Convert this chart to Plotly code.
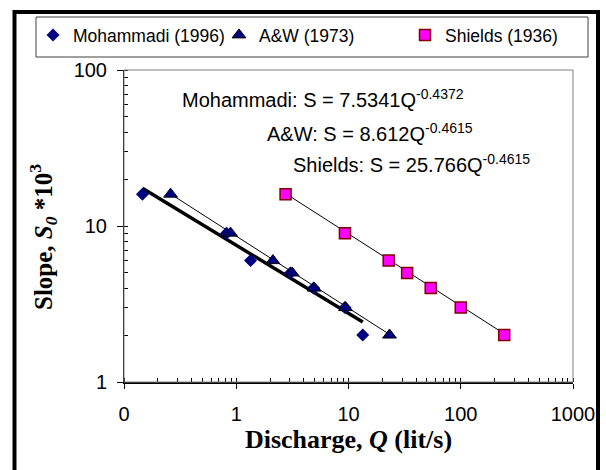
import numpy as np
import plotly.graph_objects as go

# Measured data: slope S0*10^3 against discharge Q (lit/s)
slope = [16, 9, 6, 5, 4, 3, 2]
q_mohammadi = [0.146, 0.82, 1.34, 3.03, 4.89, 9.3, 13.4]
q_aw = [0.26, 0.89, 2.12, 3.15, 4.95, 9.4, 23.2]
q_shields = [2.75, 9.3, 22.8, 33.3, 54, 100, 244]

# Power-law fits S = a * Q^b
fit_mohammadi = (7.5341, -0.4372)
fit_aw = (8.612, -0.4615)
fit_shields = (25.766, -0.4615)

x_tickvals = [0.1, 1, 10, 100, 1000]
x_ticktext = ["0", "1", "10", "100", "1000"]
y_tickvals = [1, 10, 100]
y_ticktext = ["1", "10", "100"]

W, H = 606, 470
L, R, T, B = 124, 33, 70, 88
PW, PH = W - L - R, H - T - B


def px(x):
    return (x - L) / PW


def py(y):
    return (H - B - y) / PH


def fit_curve(q, fit):
    a, b = fit
    qq = np.geomspace(min(q), max(q), 60)
    return qq, a * qq ** b


NAVY = "#000080"
ARIAL = "Liberation Sans, Arial, sans-serif"
TIMES = "Liberation Serif, Times New Roman, serif"

fig = go.Figure()

for q, fit, w in [(q_mohammadi, fit_mohammadi, 3.5), (q_aw, fit_aw, 1), (q_shields, fit_shields, 1)]:
    xx, yy = fit_curve(q, fit)
    fig.add_trace(go.Scatter(x=xx, y=yy, mode="lines", line=dict(color="black", width=w),
                             showlegend=False, hoverinfo="skip"))

fig.add_trace(go.Scatter(x=q_mohammadi, y=slope, mode="markers", name="Mohammadi (1996)",
                         marker=dict(symbol="diamond", size=10, color=NAVY, line=dict(width=0))))
fig.add_trace(go.Scatter(x=q_aw, y=slope, mode="markers", name="A&W (1973)",
                         marker=dict(symbol="triangle-up", size=12, color=NAVY,
                                     line=dict(width=1, color="black"))))
fig.add_trace(go.Scatter(x=q_shields, y=slope, mode="markers", name="Shields (1936)",
                         marker=dict(symbol="square", size=11, color="#FF00FF",
                                     line=dict(width=1.5, color="#800000"))))

minor_x = [m * 10 ** e for e in range(-1, 3) for m in range(1, 10)] + [1000]
minor_y = [m * 10 ** e for e in range(0, 2) for m in range(1, 10)] + [100]

fig.update_xaxes(type="log", range=[-1, 3], tickvals=x_tickvals, ticktext=x_ticktext,
                 ticks="outside", ticklen=5, tickcolor="black", tickwidth=1,
                 ticklabelstandoff=8,
                 minor=dict(tickvals=minor_x, ticks="inside", ticklen=4, tickcolor="black", showgrid=False),
                 showline=True, linewidth=2, linecolor="black", showgrid=False, zeroline=False,
                 tickfont=dict(family=ARIAL, size=20, color="black"),
                 title=dict(text="<b>Discharge, <i>Q</i> (lit/s)</b>", standoff=6,
                            font=dict(family=TIMES, size=26, color="black")))
fig.update_yaxes(type="log", range=[0, 2], tickvals=y_tickvals, ticktext=y_ticktext,
                 ticks="outside", ticklen=6, tickcolor="black", tickwidth=1,
                 ticklabelstandoff=6,
                 minor=dict(tickvals=minor_y, ticks="inside", ticklen=4, tickcolor="black", showgrid=False),
                 showline=True, linewidth=1, linecolor="black", showgrid=False, zeroline=False,
                 tickfont=dict(family=ARIAL, size=20, color="black"))

eq_font = dict(family=ARIAL, size=20, color="black")
annotations = [
    dict(text="Mohammadi: S = 7.5341Q<sup>-0.4372</sup>", x=px(180), y=py(98)),
    dict(text="A&W: S = 8.612Q<sup>-0.4615</sup>", x=px(265), y=py(132)),
    dict(text="Shields: S = 25.766Q<sup>-0.4615</sup>", x=px(291), y=py(163)),
]
for a in annotations:
    fig.add_annotation(xref="paper", yref="paper", xanchor="left", yanchor="middle",
                       showarrow=False, font=eq_font, **a)

fig.add_annotation(text="<b>Slope, <i>S</i><sub><i>0</i></sub> *10<sup>3</sup></b>",
                   xref="paper", yref="paper", x=px(43), y=py(237), textangle=-90,
                   xanchor="center", yanchor="middle", showarrow=False,
                   font=dict(family=TIMES, size=25, color="black"))

# plot frame, legend frame and outer chart border
fig.add_shape(type="rect", xref="paper", yref="paper", x0=0, x1=1, y0=0, y1=1,
              line=dict(color="#808080", width=1), layer="above")
fig.add_shape(type="rect", xref="paper", yref="paper", x0=px(36), x1=px(588), y0=py(57), y1=py(17),
              line=dict(color="#404040", width=1))
fig.add_shape(type="rect", xref="paper", yref="paper", x0=px(14.5), x1=px(598), y0=py(490), y1=py(12),
              line=dict(color="black", width=4))

fig.update_layout(
    width=W, height=H, margin=dict(l=L, r=R, t=T, b=B),
    paper_bgcolor="white", plot_bgcolor="white",
    showlegend=True,
    legend=dict(orientation="h", x=px(33), y=py(35), xanchor="left", yanchor="middle",
                font=dict(family=ARIAL, size=17.5, color="black"),
                bgcolor="rgba(0,0,0,0)", borderwidth=0, entrywidth=141, itemwidth=30,
                tracegroupgap=0),
)

fig.write_html("out.html")
